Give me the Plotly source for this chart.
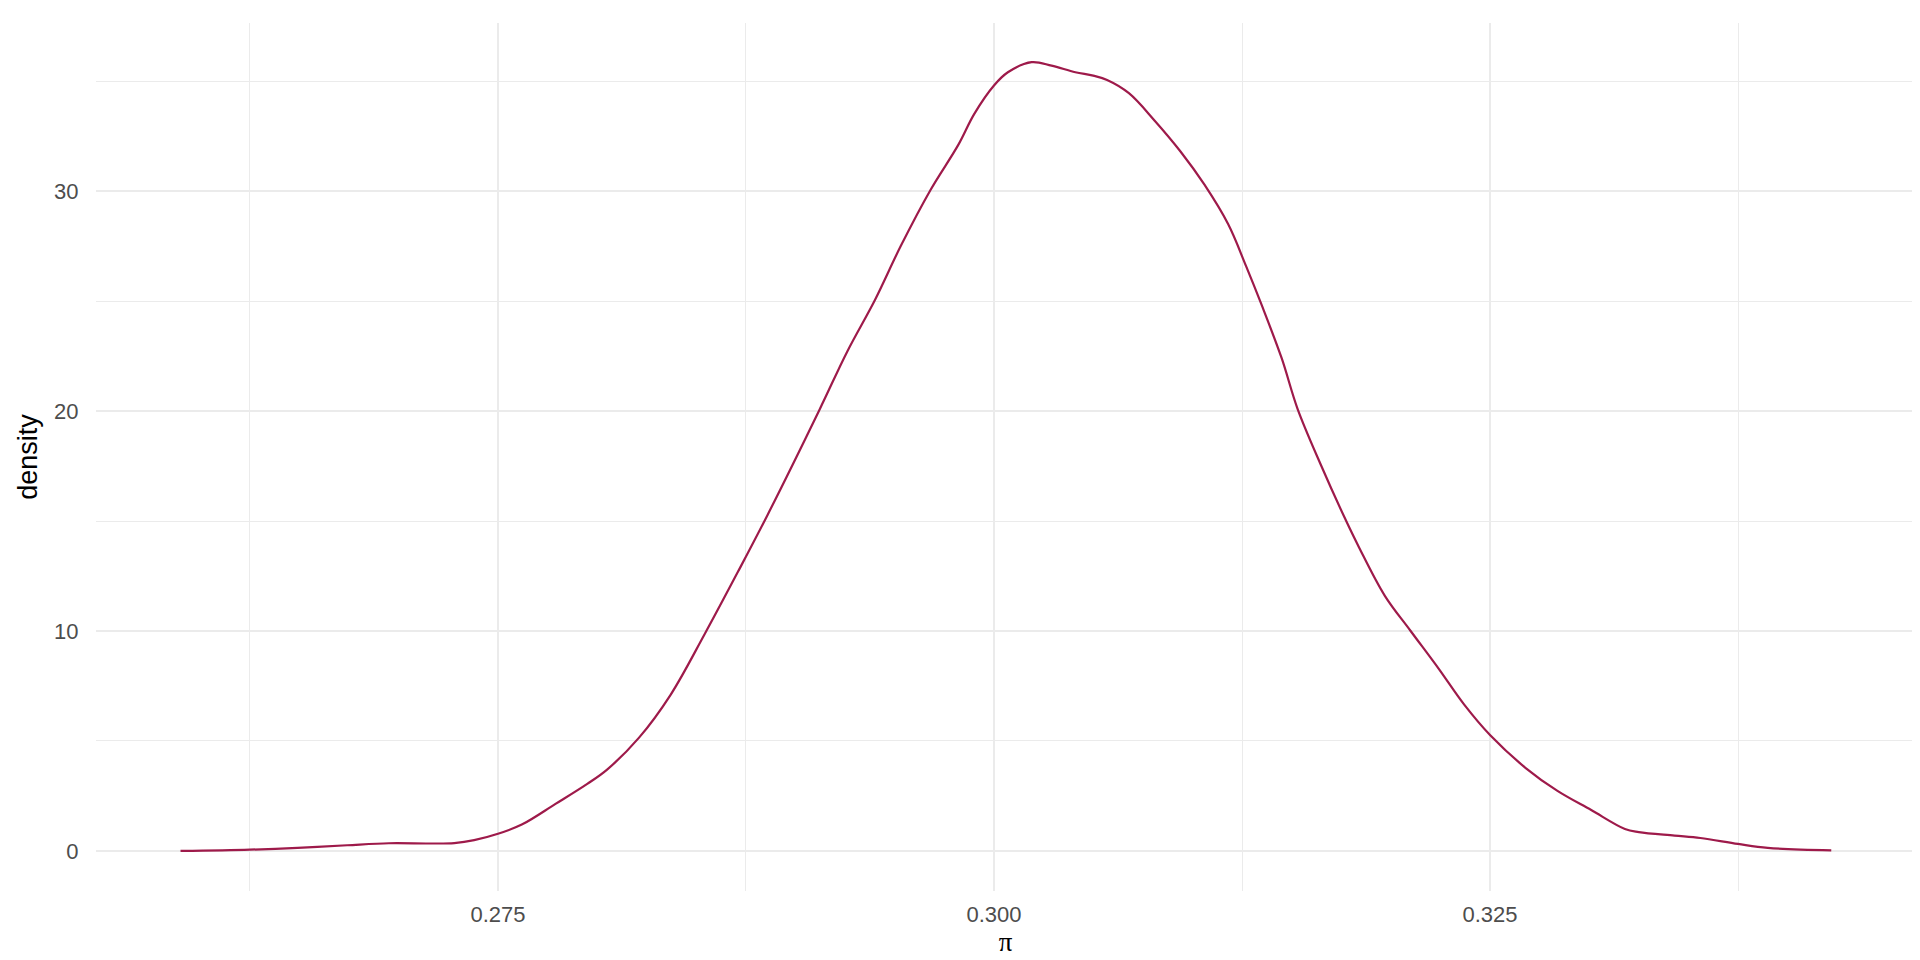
import plotly.graph_objects as go

# Density curve of pi
pi_values = [0.2590, 0.2625, 0.2649, 0.2674, 0.2695, 0.2716, 0.2728, 0.2738, 0.2750, 0.2762,
             0.2779, 0.2795, 0.2805, 0.2821, 0.2837, 0.2854, 0.2871, 0.2886, 0.2912, 0.2926,
             0.2940, 0.2953, 0.2968, 0.2982, 0.2990, 0.3000, 0.3007, 0.3019, 0.3029, 0.3041,
             0.3050, 0.3057, 0.3068, 0.3081, 0.3094, 0.3106, 0.3118, 0.3127, 0.3135, 0.3145,
             0.3153, 0.3165, 0.3177, 0.3184, 0.3197, 0.3210, 0.3224, 0.3237, 0.3250, 0.3268,
             0.3284, 0.3301, 0.3318, 0.3325, 0.3343, 0.3356, 0.3375, 0.3390, 0.3422]
density = [0.00, 0.06, 0.14, 0.26, 0.35, 0.34, 0.36, 0.49, 0.78, 1.20,
           2.14, 3.05, 3.70, 5.14, 7.10, 9.83, 12.7, 15.3, 20.05, 22.7,
           25.05, 27.5, 30.05, 32.1, 33.5, 34.8, 35.4, 35.86, 35.7, 35.4,
           35.25, 35.05, 34.45, 33.2, 31.8, 30.3, 28.5, 26.6, 24.8, 22.4,
           20.1, 17.5, 15.1, 13.8, 11.6, 10.0, 8.3, 6.65, 5.27, 3.77,
           2.73, 1.86, 1.0, 0.86, 0.70, 0.59, 0.32, 0.14, 0.03]

x_ticks = [0.275, 0.300, 0.325]
x_tick_labels = ["0.275", "0.300", "0.325"]
x_minor_ticks = [0.2625, 0.2875, 0.3125, 0.3375]
y_ticks = [0, 10, 20, 30]
y_tick_labels = ["0", "10", "20", "30"]
y_minor_ticks = [5, 15, 25, 35]

LINE = "#9E1A4A"
GRID = "#EBEBEB"
TICKFONT = dict(family="Liberation Sans, Arial, sans-serif", size=22, color="#4D4D4D")

fig = go.Figure()
fig.add_trace(go.Scatter(
    x=pi_values, y=density, mode="lines",
    line=dict(color=LINE, width=2.2, shape="spline", smoothing=1.0),
    showlegend=False,
))

fig.update_layout(
    width=1920, height=960,
    margin=dict(l=88, r=13, t=15, b=77),
    paper_bgcolor="white", plot_bgcolor="white",
    xaxis=dict(
        range=[0.25474, 0.34642],
        tickmode="array", tickvals=x_ticks, ticktext=x_tick_labels,
        showgrid=True, gridcolor=GRID, gridwidth=2.2,
        minor=dict(tickvals=x_minor_ticks, showgrid=True,
                   gridcolor=GRID, gridwidth=1.1, ticks=""),
        zeroline=False, showline=False,
        ticks="outside", ticklen=4, tickcolor="rgba(0,0,0,0)",
        tickfont=TICKFONT,
        title=dict(text="π", font=dict(family="Liberation Serif, serif", size=27, color="black"),
                   standoff=2),
    ),
    yaxis=dict(
        range=[-1.82, 37.64],
        tickmode="array", tickvals=y_ticks, ticktext=y_tick_labels,
        showgrid=True, gridcolor=GRID, gridwidth=2.2,
        minor=dict(tickvals=y_minor_ticks, showgrid=True,
                   gridcolor=GRID, gridwidth=1.1, ticks=""),
        zeroline=False, showline=False,
        ticks="outside", ticklen=12, tickcolor="rgba(0,0,0,0)",
        tickfont=TICKFONT,
        title=dict(text="density", font=dict(family="Liberation Sans, Arial, sans-serif", size=27, color="black"),
                   standoff=8),
    ),
)

fig.write_html("out.html")
